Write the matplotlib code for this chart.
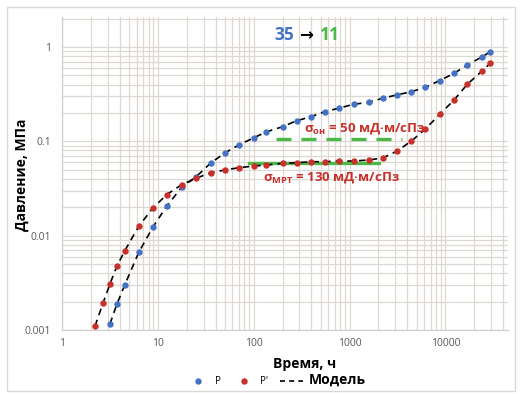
import matplotlib
matplotlib.use("Agg")
import matplotlib.pyplot as plt
from matplotlib.lines import Line2D
from matplotlib.patches import Rectangle
from matplotlib.ticker import LogLocator, FixedLocator, FixedFormatter, NullFormatter

plt.rcParams["font.family"] = ["Open Sans", "DejaVu Sans"]
plt.rcParams["mathtext.fontset"] = "custom"
plt.rcParams["mathtext.rm"] = "Open Sans:bold"
plt.rcParams["mathtext.it"] = "Open Sans:bold"
plt.rcParams["mathtext.bf"] = "Open Sans:bold"

# Pressure P, time in hours
t_p = [3.16, 3.74, 4.53, 6.34, 8.87, 12.4, 17.8, 24.9, 35.6, 49.9, 69.8, 100,
       136, 200, 280, 392, 549, 768, 1100, 1580, 2210, 3090, 4420, 6170, 8700,
       12300, 16900, 24300, 29400]
p = [0.00116, 0.00188, 0.00303, 0.0067, 0.0123, 0.0206, 0.0327, 0.0418, 0.0589,
     0.0752, 0.0914, 0.109, 0.126, 0.143, 0.165, 0.182, 0.206, 0.224, 0.247,
     0.259, 0.286, 0.31, 0.336, 0.374, 0.44, 0.526, 0.644, 0.789, 0.891]

# Pressure derivative P'
t_dp = [2.21, 2.67, 3.16, 3.74, 4.53, 6.34, 8.87, 12.4, 17.8, 24.9, 35.6, 49.9,
        69.8, 100, 136, 200, 280, 392, 549, 768, 1100, 1580, 2210, 3090, 4420,
        6170, 8700, 12300, 16900, 24300, 29400]
dp = [0.0011, 0.00191, 0.00307, 0.00476, 0.00695, 0.01264, 0.0196, 0.0273,
      0.0348, 0.0405, 0.0465, 0.0497, 0.0525, 0.0547, 0.0561, 0.0585, 0.0593,
      0.0608, 0.0608, 0.0618, 0.0618, 0.0634, 0.0665, 0.0783, 0.1007, 0.135,
      0.193, 0.274, 0.402, 0.561, 0.672]

# Radial-flow stabilisation levels
mrt_t = [90, 2050]
mrt_level = 0.059
oh_t = [172, 3560]
oh_level = 0.105

x_ticks = [1, 10, 100, 1000, 10000]
x_labels = ["1", "10", "100", "1000", "10000"]
y_ticks = [0.001, 0.01, 0.1, 1]
y_labels = ["0.001", "0.01", "0.1", "1"]

BLUE = "#4472C4"
RED = "#C8302A"
GREEN = "#4CB848"
GRID = "#DED8D5"

W, H = 522, 394
fig = plt.figure(figsize=(W / 100, H / 100), dpi=100)
fig.patches.append(Rectangle((7 / W, 3 / H), 508 / W, 384 / H,
                             transform=fig.transFigure, fill=False,
                             edgecolor="#D9D9D9", linewidth=1.0))

ax = fig.add_axes([62 / W, 64 / H, 446 / W, 313 / H])
ax.set_xscale("log")
ax.set_yscale("log")
ax.set_xlim(1, 45000)
ax.set_ylim(0.001, 2.08)

ax.xaxis.set_major_locator(FixedLocator(x_ticks))
ax.xaxis.set_major_formatter(FixedFormatter(x_labels))
ax.yaxis.set_major_locator(FixedLocator(y_ticks))
ax.yaxis.set_major_formatter(FixedFormatter(y_labels))
ax.xaxis.set_minor_locator(LogLocator(base=10, subs=range(2, 10), numticks=20))
ax.yaxis.set_minor_locator(LogLocator(base=10, subs=range(2, 10), numticks=20))
ax.xaxis.set_minor_formatter(NullFormatter())
ax.yaxis.set_minor_formatter(NullFormatter())
ax.tick_params(which="both", length=0, labelsize=7.5, labelcolor="#595959")
ax.tick_params(axis="x", pad=6)
ax.tick_params(axis="y", pad=8)
ax.grid(True, which="both", color=GRID, linewidth=0.9)
ax.set_axisbelow(True)
for side in ("top", "right"):
    ax.spines[side].set_visible(False)
for side in ("left", "bottom"):
    ax.spines[side].set_color("#D0D0D0")
    ax.spines[side].set_linewidth(0.9)

# Model curves
ax.plot(t_p, p, color="black", linestyle=(0, (4, 3)), linewidth=1.2, zorder=3)
ax.plot(t_dp, dp, color="black", linestyle=(0, (4, 3)), linewidth=1.2, zorder=3)

# Field data
ax.plot(t_p, p, linestyle="none", marker="o", markersize=4.6, color=BLUE,
        markeredgewidth=0, zorder=4)
ax.plot(t_dp, dp, linestyle="none", marker="o", markersize=4.6, color=RED,
        markeredgewidth=0, zorder=4)

# Stabilisation levels
ax.plot(mrt_t, [mrt_level, mrt_level], color=GREEN, linewidth=2.4, zorder=2)
ax.plot(oh_t, [oh_level, oh_level], color=GREEN, linewidth=2.4,
        linestyle=(0, (4.5, 3)), zorder=2)

ax.text(332, 0.138, r"σ$_{\rm он}$ = 50 мД·м/сПз", color=RED, fontsize=9.5,
        fontweight="bold", ha="left", va="center", zorder=5)
ax.text(126, 0.0418, r"σ$_{\rm МРТ}$ = 130 мД·м/сПз", color=RED, fontsize=9.5,
        fontweight="bold", ha="left", va="center", zorder=5)

# Heading 35 -> 11
anchor = (350, 1.34)
ax.annotate("→", anchor, xytext=(0, 0), textcoords="offset points",
            ha="center", va="center", fontsize=12, fontweight="bold",
            color="black", family=["DejaVu Sans"])
ax.annotate("35", anchor, xytext=(-8.5, 0), textcoords="offset points",
            ha="right", va="center", fontsize=12.5, fontweight="bold",
            color=BLUE)
ax.annotate("11", anchor, xytext=(10.5, 0), textcoords="offset points",
            ha="left", va="center", fontsize=12.5, fontweight="bold",
            color=GREEN)

ax.set_ylabel("Давление, МПа", fontsize=10, fontweight="bold")
ax.yaxis.set_label_coords(-0.073, 0.495)
ax.set_xlabel("Время, ч", fontsize=10, fontweight="bold")
ax.xaxis.set_label_coords(0.544, -0.085)

handles = [
    Line2D([], [], linestyle="none", marker="o", markersize=4.6, color=BLUE,
           markeredgewidth=0),
    Line2D([], [], linestyle="none", marker="o", markersize=4.6, color=RED,
           markeredgewidth=0),
    Line2D([], [], color="black", linestyle=(0, (3, 2.5)), linewidth=1.2),
]
leg = fig.legend(handles, ["P", "P'", "Модель"], ncol=3, frameon=False,
                 loc="center", bbox_to_anchor=(276 / W, 1 - 380 / H),
                 fontsize=7, handlelength=2.4, handletextpad=0.5,
                 columnspacing=1.2)
leg.get_texts()[2].set_fontsize(10)
leg.get_texts()[2].set_fontweight("bold")

fig.savefig("out.png", dpi=100)
